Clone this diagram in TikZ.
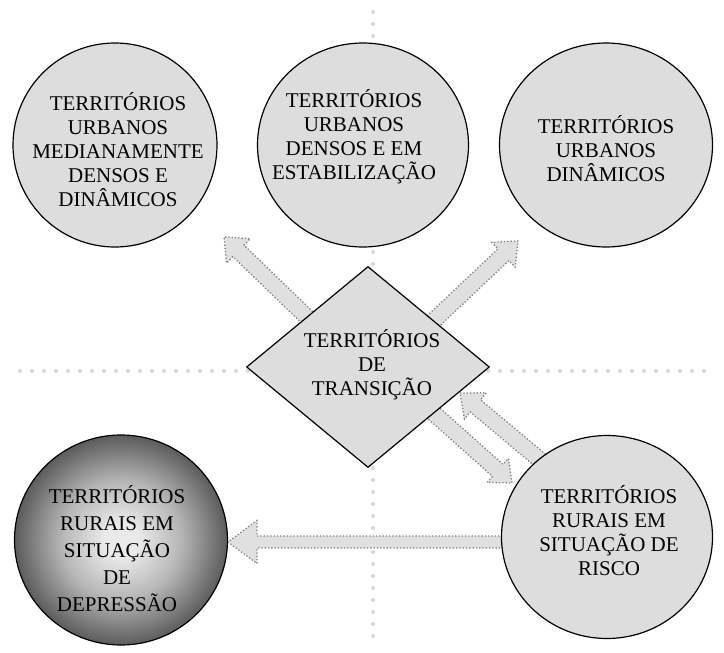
\documentclass[tikz,border=0pt]{standalone}
\usepackage{fontspec}
\setmainfont{Liberation Serif}
\usetikzlibrary{shapes.geometric,calc}

\definecolor{zonefill}{RGB}{221,221,221}
\definecolor{arrowfill}{RGB}{224,224,224}
\definecolor{arrowline}{RGB}{128,128,128}
\definecolor{guidedot}{RGB}{218,218,218}
\definecolor{depin}{RGB}{234,234,234}
\definecolor{depmid}{RGB}{182,182,182}
\definecolor{depout}{RGB}{92,92,92}

\pgfdeclareradialshading{depression}{\pgfpointorigin}{color(0bp)=(depin); color(4bp)=(depin); color(14bp)=(depmid); color(25bp)=(depout); color(50bp)=(depout)}

\tikzset{
  zone/.style={ellipse,draw,line width=1.2pt,fill=zonefill,inner sep=0pt},
  transzone/.style={diamond,draw,line width=1.2pt,fill=zonefill,inner sep=0pt},
  zonetext/.style={align=center,inner sep=0pt,font=\fontsize{21}{24}\selectfont},
  guide/.style={draw=guidedot,line width=4.3pt,line cap=round,dash pattern=on 0pt off 12pt},
  blockarr/.style={fill=arrowfill,draw=arrowline,line width=1.3pt,dash pattern=on 1.3pt off 2pt}
}

% block arrow: start, end, half shaft, half head, head length
\newcommand\blockarrow[5]{%
  \path (#1) coordinate (ba-s) (#2) coordinate (ba-e);
  \path ($(ba-e)!#5!(ba-s)$) coordinate (ba-h);
  \draw[blockarr] ($(ba-s)!#3!90:(ba-e)$) -- ($(ba-h)!#3!-90:(ba-s)$) -- ($(ba-h)!#4!-90:(ba-s)$)
    -- (ba-e) -- ($(ba-h)!#4!90:(ba-s)$) -- ($(ba-h)!#3!90:(ba-s)$) -- ($(ba-s)!#3!-90:(ba-e)$) -- cycle;}

\begin{document}
\begin{tikzpicture}[x=1pt,y=-1pt]
  \useasboundingbox (0,0) rectangle (724,653);

  % guide lines
  \draw[guide] (373,12) -- (373,645);
  \draw[guide] (20,371) -- (706,371);

  % arrows
  \coordinate (upleft-s) at (312,322);  \coordinate (upleft-e) at (224,237);
  \coordinate (upright-s) at (430,324); \coordinate (upright-e) at (518,241);
  \coordinate (back-s) at (552,470);    \coordinate (back-e) at (460,393);
  \coordinate (down-s) at (430,410);    \coordinate (down-e) at (512,483);
  \coordinate (left-s) at (520,542);    \coordinate (left-e) at (228,542);
  \blockarrow{upleft-s}{upleft-e}{8pt}{17pt}{20pt}
  \blockarrow{upright-s}{upright-e}{8pt}{17pt}{20pt}
  \blockarrow{back-s}{back-e}{8pt}{17pt}{20pt}
  \blockarrow{down-s}{down-e}{8pt}{16pt}{19pt}
  \blockarrow{left-s}{left-e}{6pt}{21.5pt}{29pt}

  % zones
  \node[zone,minimum width=204pt,minimum height=204pt] (urbmed) at (115,145) {};
  \node[zone,minimum width=211pt,minimum height=204pt] (urbest) at (363,145) {};
  \node[zone,minimum width=213pt,minimum height=204pt] (urbdin) at (606,145) {};
  \node[zone,minimum width=211pt,minimum height=203pt] (risco) at (607,537) {};
  \node[zone,shading=depression,minimum width=213pt,minimum height=210pt] (depr) at (121,540) {};
  \node[transzone,minimum width=243pt,minimum height=201pt] (trans) at (368,367) {};

  % texts
  \node[zonetext] (urbmed-txt) at (118,150) {TERRITÓRIOS\\URBANOS\\MEDIANAMENTE\\DENSOS E\\DINÂMICOS};
  \node[zonetext] (urbest-txt) at (354,137) {TERRITÓRIOS\\URBANOS\\DENSOS E EM\\ESTABILIZAÇÃO};
  \node[zonetext] (urbdin-txt) at (606,149) {TERRITÓRIOS\\URBANOS\\DINÂMICOS};
  \node[zonetext] (risco-txt) at (609,531) {TERRITÓRIOS\\RURAIS EM\\SITUAÇÃO DE\\RISCO};
  \node[zonetext,font=\fontsize{21}{27}\selectfont] (depr-txt) at (117,549) {TERRITÓRIOS\\RURAIS EM\\SITUAÇÃO\\DE\\DEPRESSÃO};
  \node[zonetext] (trans-txt) at (372,365) {TERRITÓRIOS\\DE\\TRANSIÇÃO};
\end{tikzpicture}
\end{document}
